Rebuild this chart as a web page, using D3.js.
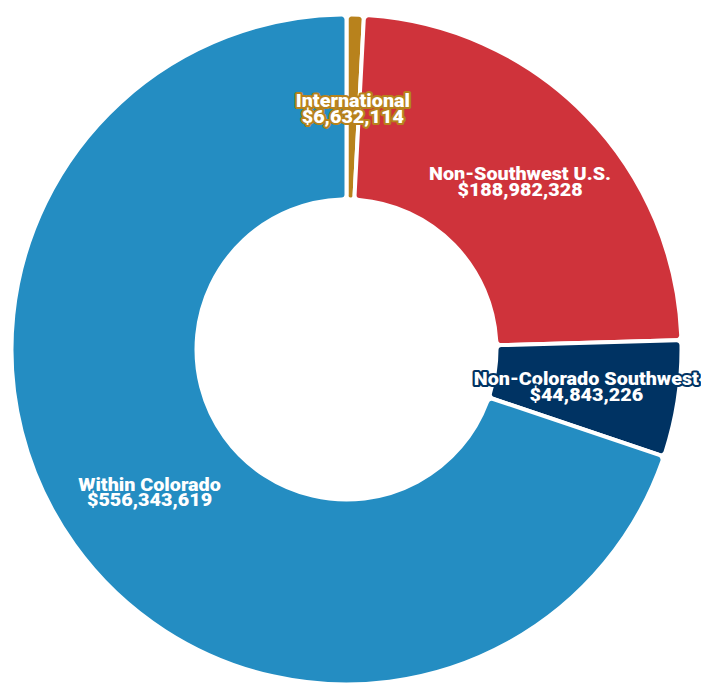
<!DOCTYPE html>
<html>
<head>
<meta charset="utf-8">
<script src="https://cdn.jsdelivr.net/npm/d3@7"></script>
<style>
  html, body { margin: 0; padding: 0; background: #fff; }
  svg { display: block; }
  .slice-label { font-family: Roboto, "Noto Sans", sans-serif; font-weight: 900; font-size: 17.5px; }
</style>
</head>
<body>
<svg id="chart" width="701" height="683"></svg>
<script>
// Revenue by origin, in US dollars, clockwise from 12 o'clock
const regions = ["International", "Non-Southwest U.S.", "Non-Colorado Southwest", "Within Colorado"];
const amounts = [6632114, 188982328, 44843226, 556343619];
const colors  = ["#b8821c", "#cf333b", "#003363", "#248dc2"];

const width = 701, height = 683;
const cx = 346.5, cy = 349.5;
const outerR = 335, innerR = 150;

const svg = d3.select("#chart");
const g = svg.append("g").attr("transform", `translate(${cx},${cy})`);

const data = regions.map((name, i) => ({ name, value: amounts[i], color: colors[i] }));

const pie = d3.pie().value(d => d.value).sort(null);
const arc = d3.arc().innerRadius(innerR).outerRadius(outerR).cornerRadius(5);

const arcs = pie(data);

g.selectAll("path.slice")
  .data(arcs)
  .join("path")
  .attr("class", "slice")
  .attr("d", arc)
  .attr("fill", d => d.data.color)
  .attr("stroke", "#fff")
  .attr("stroke-width", 4)
  .attr("stroke-linejoin", "round");

const fmt = d3.format("$,");

// Labels sit on each slice's centroid, in a wide heavy face with a halo of the slice colour
const labels = g.selectAll("text.slice-label")
  .data(arcs)
  .join("text")
  .attr("class", "slice-label")
  .attr("transform", d => `translate(${arc.centroid(d)}) scale(1.13,1)`)
  .attr("text-anchor", "middle")
  .attr("fill", "#fff")
  .attr("stroke", d => d.data.color)
  .attr("stroke-width", 4)
  .attr("stroke-linejoin", "round")
  .attr("paint-order", "stroke");

labels.append("tspan")
  .attr("x", 0)
  .attr("y", 0)
  .text(d => d.data.name);

labels.append("tspan")
  .attr("x", 0)
  .attr("y", 15.5)
  .text(d => fmt(d.data.value));
</script>
</body>
</html>
